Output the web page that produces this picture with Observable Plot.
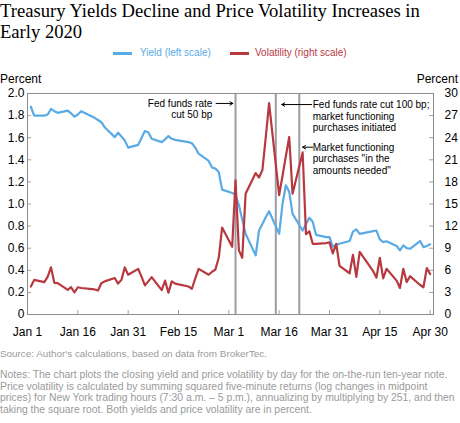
<!DOCTYPE html>
<html><head><meta charset="utf-8">
<script src="https://cdn.jsdelivr.net/npm/d3@7"></script>
<script src="https://cdn.jsdelivr.net/npm/@observablehq/plot@0.6"></script>
<style>
html,body{margin:0;padding:0;background:#fff}
body{width:460px;height:423px;position:relative;overflow:hidden;font-family:"Liberation Sans",Arial,sans-serif;color:#000}
.title{position:absolute;left:0;font-family:"Liberation Serif",Georgia,serif;font-size:18.6px;line-height:21px;white-space:nowrap}
.leg{position:absolute;font-size:10px;line-height:12px;top:47px;white-space:nowrap}
.sw{position:absolute;height:2.5px;width:19px;top:52px}
.pct{position:absolute;top:72px;font-size:12px;line-height:14px}
#chart{position:absolute;left:0;top:63px}
#source{position:absolute;left:0;top:348px;font-size:9.9px;line-height:12px;color:#9a9a9a;white-space:nowrap}
#notes{position:absolute;left:0;top:369px;font-size:10.4px;line-height:11.7px;color:#9a9a9a;white-space:nowrap}
</style></head>
<body>
<div class="title" style="top:0px">Treasury Yields Decline and Price Volatility Increases in</div>
<div class="title" style="top:21px">Early 2020</div>
<div class="sw" style="left:113px;background:#5aaae6"></div>
<div class="leg" style="left:140px;color:#5aaae6">Yield (left scale)</div>
<div class="sw" style="left:230px;background:#b7393f"></div>
<div class="leg" style="left:255px;color:#b7393f">Volatility (right scale)</div>
<div class="pct" style="left:0">Percent</div>
<div class="pct" style="right:2px">Percent</div>
<div id="chart"></div>
<div id="source">Source: Author's calculations, based on data from BrokerTec.</div>
<div id="notes">Notes: The chart plots the closing yield and price volatility by day for the on-the-run ten-year note.<br>Price volatility is calculated by summing squared five-minute returns (log changes in midpoint<br>prices) for New York trading hours (7:30 a.m. – 5 p.m.), annualizing by multiplying by 251, and then<br>taking the square root. Both yields and price volatility are in percent.</div>
<script>
// Trading days
const dates = [
 "2020-01-02","2020-01-03","2020-01-06","2020-01-07","2020-01-08","2020-01-09","2020-01-10","2020-01-13","2020-01-14","2020-01-15","2020-01-16","2020-01-17","2020-01-21","2020-01-22","2020-01-23","2020-01-24","2020-01-27","2020-01-28","2020-01-29","2020-01-30","2020-01-31",
 "2020-02-03","2020-02-04","2020-02-05","2020-02-06","2020-02-07","2020-02-10","2020-02-11","2020-02-12","2020-02-13","2020-02-14","2020-02-18","2020-02-19","2020-02-20","2020-02-21","2020-02-24","2020-02-25","2020-02-26","2020-02-27","2020-02-28",
 "2020-03-02","2020-03-03","2020-03-04","2020-03-05","2020-03-06","2020-03-09","2020-03-10","2020-03-11","2020-03-12","2020-03-13","2020-03-16","2020-03-17","2020-03-18","2020-03-19","2020-03-20","2020-03-23","2020-03-24","2020-03-25","2020-03-26","2020-03-27","2020-03-30","2020-03-31",
 "2020-04-01","2020-04-02","2020-04-03","2020-04-06","2020-04-07","2020-04-08","2020-04-09","2020-04-13","2020-04-14","2020-04-15","2020-04-16","2020-04-17","2020-04-20","2020-04-21","2020-04-22","2020-04-23","2020-04-24","2020-04-27","2020-04-28","2020-04-29","2020-04-30"
];
// Closing yield, percent (left scale)
const yieldPct = [
 1.88,1.80,1.80,1.81,1.86,1.84,1.825,1.845,1.82,1.79,1.81,1.84,1.78,1.76,1.74,1.695,1.605,1.645,1.61,1.575,1.51,
 1.535,1.60,1.66,1.65,1.59,1.56,1.585,1.615,1.59,1.58,1.56,1.55,1.51,1.455,1.39,1.33,1.32,1.29,1.13,
 1.10,1.08,0.99,0.86,0.73,0.535,0.76,0.82,0.88,0.935,0.73,1.00,1.17,1.11,0.91,0.76,0.82,0.875,0.84,0.72,0.70,0.70,
 0.615,0.63,0.64,0.665,0.75,0.77,0.73,0.755,0.76,0.68,0.655,0.663,0.62,0.58,0.625,0.60,0.595,0.665,0.61,0.62,0.635
];
// Price volatility, percent (right scale)
const volPct = [
 3.8,4.7,4.4,5.1,6.4,4.3,4.25,3.35,3.7,3.0,3.7,3.6,3.4,3.25,4.25,4.5,4.95,4.2,4.7,6.4,5.4,
 6.2,5.1,3.95,4.5,5.07,3.3,4.6,2.95,4.5,4.2,3.8,3.5,4.9,6.2,5.4,5.8,6.1,7.7,11.8,
 9.2,18.2,8.7,7.7,16.4,19.2,18.6,19.6,24.0,28.7,16.2,18.8,21.5,24.1,16.4,22.0,10.9,11.3,9.6,9.6,9.7,9.8,
 8.3,9.6,6.6,5.6,8.1,5.1,8.5,5.9,5.0,7.7,4.9,6.2,4.6,3.6,6.2,4.4,5.2,4.0,3.7,6.3,5.5
];
const leftTicks = [0,0.2,0.4,0.6,0.8,1.0,1.2,1.4,1.6,1.8,2.0];
const rightTickLabels = ["0","3","6","9","12","15","18","21","24","27","30"];
const xTickDates = ["2020-01-01","2020-01-16","2020-01-31","2020-02-15","2020-03-01","2020-03-16","2020-03-31","2020-04-15","2020-04-30"];
const eventDates = ["2020-03-03","2020-03-15","2020-03-22"];
const annotationText = ["Fed funds rate\ncut 50 bp", "Fed funds rate cut 100 bp;\nmarket functioning\npurchases initiated", "Market functioning\npurchases \"in the\namounts needed\""];
const annotationX = ["2020-02-25T02:00","2020-03-26T00:00","2020-03-26T00:00"];
const annotationY = [1.86, 1.796, 1.41];
const arrowFrom = ["2020-02-26T05:00","2020-03-25T17:00","2020-03-26T00:00"];
const arrowTo = ["2020-03-02T05:00","2020-03-16T19:00","2020-03-23T00:00"];
const arrowY = [1.91, 1.90, 1.514];

const blue = "#5aaae6", red = "#b7393f";
const series = dates.map((d,i) => ({date: new Date(d), yld: yieldPct[i], vol: volPct[i]}));
const xTicks = xTickDates.map(d => new Date(d));
const notes = annotationText.map((t,i) => ({text: t, x: new Date(annotationX[i] + "Z"), y: annotationY[i]}));
const arrows = arrowFrom.map((f,i) => ({x1: new Date(f + "Z"), x2: new Date(arrowTo[i] + "Z"), y: arrowY[i]}));

const W = 460, H = 280, mT = 30, mB = 29, mL = 27, mR = 27;
const pw = W - mL - mR, ph = H - mT - mB;
const gray = "#8c8c8c";

const chart = Plot.plot({
  width: W, height: H,
  marginTop: mT, marginBottom: mB, marginLeft: mL, marginRight: mR,
  style: {fontFamily: "'Liberation Sans', Arial, sans-serif", fontSize: "12px", color: "#000", background: "transparent", overflow: "visible"},
  x: {type: "utc", domain: [new Date("2020-01-01"), new Date("2020-05-01")]},
  y: {domain: [0, 2]},
  marks: [
    Plot.ruleX(eventDates.map(d => new Date(d)), {stroke: "#9c9ca6", strokeWidth: 2}),
    Plot.gridY(leftTicks, {stroke: "#a0a0a0", strokeOpacity: 1, insetRight: pw - 4}),
    Plot.gridY(leftTicks, {stroke: "#a0a0a0", strokeOpacity: 1, insetLeft: pw - 4}),
    Plot.gridX(xTicks, {stroke: "#a0a0a0", strokeOpacity: 1, insetTop: ph - 4}),
    Plot.axisY(leftTicks, {anchor: "left", tickSize: 0, tickPadding: 3, tickFormat: d => d === 0 ? "0" : d.toFixed(1), label: null, fontSize: 12}),
    Plot.axisY(leftTicks, {anchor: "right", tickSize: 0, tickPadding: 11, tickFormat: (d, i) => rightTickLabels[i], label: null, fontSize: 12}),
    Plot.axisX(xTicks, {tickSize: 0, tickPadding: 13, tickFormat: d3.utcFormat("%b %-d"), label: null, fontSize: 12}),
    Plot.frame({stroke: gray}),
    Plot.line(series, {x: "date", y: "yld", stroke: blue, strokeWidth: 2.2}),
    Plot.line(series, {x: "date", y: d => d.vol / 15, stroke: red, strokeWidth: 2.2}),
    Plot.arrow(arrows, {x1: "x1", x2: "x2", y1: "y", y2: "y", stroke: "#000", strokeWidth: 1, headLength: 5, headAngle: 60}),
    Plot.text(notes.slice(0,1), {x: "x", y: "y", text: "text", textAnchor: "end", fontSize: 10, lineHeight: 1.13, fill: "#000"}),
    Plot.text(notes.slice(1), {x: "x", y: "y", text: "text", textAnchor: "start", fontSize: 10, lineHeight: 1.13, fill: "#000"})
  ]
});
document.getElementById("chart").appendChild(chart);
</script>
</body></html>
